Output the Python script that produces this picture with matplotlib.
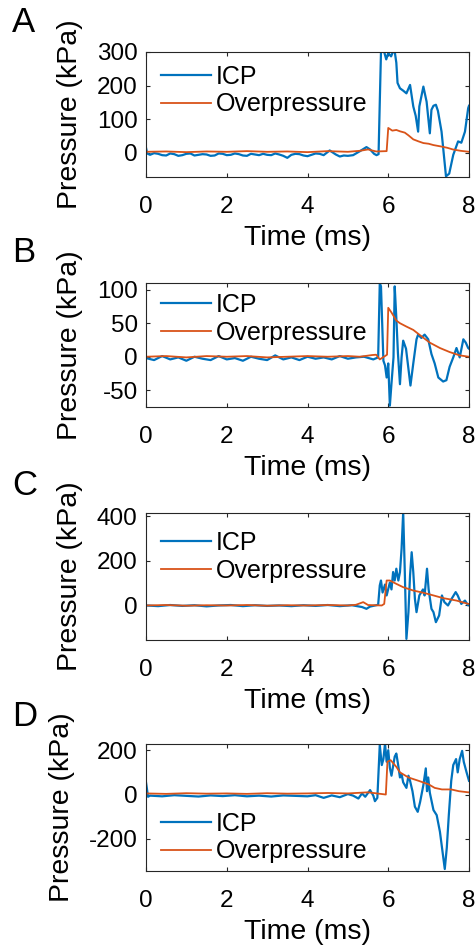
import numpy as np
import matplotlib
matplotlib.use("Agg")
import matplotlib.pyplot as plt

plt.rcParams['font.family'] = ['Liberation Sans', 'DejaVu Sans']
plt.rcParams['axes.unicode_minus'] = False

BLUE = '#0072BD'
ORANGE = '#D95319'

# ---- panel A ----
a_icp_t = [0, 0.03, 0.1, 0.2, 0.3, 0.4, 0.5, 0.6, 0.7, 0.8, 0.9, 1.0, 1.1, 1.2, 1.3, 1.4, 1.5, 1.6, 1.7,
           1.8, 1.9, 2.0, 2.1, 2.2, 2.3, 2.4, 2.5, 2.6, 2.7, 2.8, 2.9, 3.0, 3.1, 3.2, 3.3, 3.4,
           3.5, 3.6, 3.7, 3.8, 3.9, 4.0, 4.1, 4.2, 4.3, 4.4, 4.55, 4.7, 4.8, 4.9, 5.0, 5.13, 5.3, 5.46,
           5.55, 5.65, 5.71, 5.76,
           5.79, 5.82, 5.85, 5.9, 5.95, 6.0, 6.07, 6.15, 6.2, 6.23, 6.29, 6.37, 6.45, 6.54, 6.62, 6.68,
           6.74, 6.77, 6.87, 6.95, 7.03, 7.07, 7.12, 7.18, 7.23, 7.32, 7.43, 7.51, 7.61, 7.73, 7.81,
           7.9, 7.98, 8.0]
a_icp_p = [15, -2, -6, -1, -3, -7, -8, -2, -4, -9, -7, -3, -2, -8, -6, -4, -5, -9, -8,
           -2, -3, -7, -6, -2, -4, -8, -9, -3, -5, -7, -3, -6, -7, -2, -5, -9,
           -15, -6, -3, -4, -8, -10, -6, -2, -3, -7, 7, -5, -11, -8, -9, -7, 5, 17,
           10, -3, -7, -4,
           150, 300, 310, 300, 278, 297, 287, 310, 268, 208, 192, 185, 177, 202, 138, 110,
           63, 138, 197, 152, 58, 128, 140, 143, 125, 63, -70, -62, -6, 34, 30,
           63, 133, 140]
a_op_t = [0, 0.5, 1.0, 1.5, 2.0, 2.5, 3.0, 3.5, 4.0, 4.5, 5.0, 5.3, 5.5, 5.7, 5.96, 6.0, 6.05, 6.1, 6.2,
          6.29, 6.41, 6.5, 6.62, 6.75, 6.87, 7.0, 7.12, 7.3, 7.46, 7.6, 7.79, 8.0]
a_op_p = [3, 4, 2, 4, 3, 5, 3, 4, 2, 5, 3, 6, 10, 4, 5, 74, 70, 66, 68,
          64, 60, 52, 40, 34, 29, 27, 23, 19, 15, 10, 6, 3]

# ---- panel B ----
b_icp_t = [0, 0.2, 0.4, 0.6, 0.8, 1.0, 1.2, 1.4, 1.6, 1.8, 2.0, 2.2, 2.4, 2.6, 2.8, 3.0, 3.2, 3.4, 3.6,
           3.8, 4.0, 4.2, 4.4, 4.6, 4.8, 5.0, 5.2, 5.4, 5.63, 5.75, 5.79, 5.82, 5.84, 5.88, 5.92, 5.96,
           6.0, 6.04, 6.08, 6.13, 6.16, 6.2, 6.24, 6.29, 6.33, 6.37, 6.44, 6.5, 6.55, 6.62, 6.7, 6.74,
           6.82, 6.9, 6.99, 7.07, 7.15, 7.24, 7.36, 7.44, 7.52, 7.61, 7.69, 7.77, 7.86, 7.92, 7.98, 8.0]
b_icp_p = [-2, -5, 1, -4, -1, -6, 0, -3, -5, 1, -4, -2, -6, 0, -3, -5, 2, -4, -1,
           -5, 0, -3, -1, -4, 1, -3, -1, 0, -4, -1, 110, 105, 68, -6, -13, -31,
           -10, -73, -40, -1, 105, 58, 5, -41, -1, 24, 12, -18, -43, -10, 26, 33,
           28, 33, 26, 4, -10, -31, -37, -35, -15, -1, 13, -1, 26, 21, 13, 12]
b_op_t = [0, 0.5, 1.0, 1.5, 2.0, 2.5, 3.0, 3.5, 4.0, 4.5, 5.0, 5.3, 5.6, 5.7, 5.79, 5.92, 5.97, 6.0,
          6.08, 6.2, 6.29, 6.45, 6.62, 6.79, 7.03, 7.28, 7.52, 7.77, 8.0]
b_op_p = [0, 1, -1, 1, 0, 1, -1, 0, 1, 0, 1, 0, 2.5, 3, -4, 1, 3, 73,
          66, 54, 50, 45, 40, 32, 21, 13, 7, 2, 0]

# ---- panel C ----
c_icp_t = [0, 0.3, 0.6, 0.9, 1.2, 1.5, 1.8, 2.1, 2.4, 2.7, 3.0, 3.3, 3.6, 3.9, 4.2, 4.5, 4.8, 5.1,
           5.35, 5.46, 5.55, 5.75, 5.79, 5.82, 5.86, 5.92, 5.96, 6.04, 6.08, 6.12, 6.16, 6.2, 6.25,
           6.29, 6.33, 6.37, 6.41, 6.45, 6.5, 6.54, 6.58, 6.62, 6.66, 6.7, 6.77, 6.86, 6.9, 6.96,
           7.0, 7.07, 7.12, 7.18, 7.26, 7.33, 7.39, 7.48, 7.57, 7.67, 7.72, 7.81, 7.9, 7.98, 8.0]
c_icp_p = [0, -3, 2, -2, 1, -4, 0, 2, -3, 1, -2, 0, -3, 1, -2, 2, -3, 1,
           -7, -15, -5, 3, 90, 112, 58, 94, 45, 103, 72, 150, 112, 165, 112,
           150, 254, 419, 150, -150, -30, 135, 239, 150, 30, -30, 45, 72, 45, 165,
           72, -15, -30, -75, -45, 45, 15, 0, 30, 60, 45, 7, 22, 0, 5]
c_op_t = [0, 0.5, 1.0, 1.5, 2.0, 2.5, 3.0, 3.5, 4.0, 4.5, 5.0, 5.2, 5.38, 5.5, 5.84, 5.9, 5.96, 6.04,
          6.2, 6.37, 6.62, 6.87, 7.12, 7.36, 7.69, 7.98, 8.0]
c_op_p = [0, 2, -1, 1, 0, 2, -1, 1, 0, 2, 0, 3, 15, 2, 0, 7, 112, 112,
          97, 82, 67, 57, 45, 33, 22, 7, 7]

# ---- panel D ----
d_icp_t = [0, 0.02, 0.05, 0.1, 0.4, 0.7, 1.0, 1.3, 1.6, 1.9, 2.2, 2.5, 2.8, 3.1, 3.4, 3.7, 4.0, 4.2,
           4.4, 4.6, 4.8, 5.0, 5.13, 5.26, 5.35, 5.43, 5.55, 5.63, 5.67, 5.73, 5.79, 5.84, 5.88, 5.92,
           5.96, 6.0, 6.04, 6.08, 6.16, 6.2, 6.24, 6.29, 6.33, 6.37, 6.45, 6.5, 6.54, 6.6, 6.66, 6.73,
           6.79, 6.87, 6.93, 6.96, 6.99, 7.03, 7.12, 7.2, 7.28, 7.4, 7.45, 7.5, 7.56, 7.61, 7.68,
           7.72, 7.77, 7.83, 7.87, 7.94, 8.0]
d_icp_p = [55, 30, -10, -5, -8, -3, -6, -9, -4, -7, -3, -8, -5, -9, -4, -6, -8, -3,
           -15, -4, -12, 2, -5, -18, 5, -10, 20, -5, -30, -15, 224, 133, 160, 230,
           148, 200, 120, 85, 171, 185, 140, 77, 92, 55, 30, 85, 62, 15, -55, -78,
           -33, 43, 118, 15, 77, 8, -70, -93, -168, -336, -240, -93, 62, 133, 160,
           100, 160, 197, 148, 100, 62]
d_op_t = [0, 0.5, 1.0, 1.5, 2.0, 2.5, 3.0, 3.5, 4.0, 4.5, 5.0, 5.5, 5.94, 5.98, 6.06, 6.2, 6.29, 6.5,
          6.75, 7.0, 7.15, 7.33, 7.56, 7.75, 7.98, 8.0]
d_op_p = [5, 3, 6, 4, 5, 3, 6, 4, 5, 7, 5, 10, 0, 148, 155, 125, 100, 77,
          62, 46, 30, 23, 23, 15, 10, 10]

letters = ['A', 'B', 'C', 'D']
icp_t = [a_icp_t, b_icp_t, c_icp_t, d_icp_t]
icp_p = [a_icp_p, b_icp_p, c_icp_p, d_icp_p]
op_t = [a_op_t, b_op_t, c_op_t, d_op_t]
op_p = [a_op_p, b_op_p, c_op_p, d_op_p]
ylims = [(-72, 300), (-75, 110), (-155, 415), (-345, 228)]
yticks = [[0, 100, 200, 300], [-50, 0, 50, 100], [0, 200, 400], [-200, 0, 200]]
xticks = [0, 2, 4, 6, 8]

W, H = 477, 951
# axes boxes in pixels: (top, bottom)
boxes = [(52, 177), (283, 407), (513, 640), (744, 871)]
letter_y = [22, 252, 485, 716]
leg_loc = ['upper left', 'upper left', 'upper left', 'lower left']
leg_anchor = [(0.045, 0.90), (0.045, 0.92), (0.045, 0.86), (0.045, 0.06)]

fig = plt.figure(figsize=(W / 100, H / 100), dpi=100)

for i in range(4):
    top, bot = boxes[i]
    ax = fig.add_axes([146 / W, 1 - bot / H, (469 - 146) / W, (bot - top) / H])
    ax.plot(icp_t[i], icp_p[i], color=BLUE, lw=1.6, label='ICP')
    ax.plot(op_t[i], op_p[i], color=ORANGE, lw=1.3, label='Overpressure')
    ax.set_xlim(0, 8)
    ax.set_ylim(*ylims[i])
    ax.set_xticks(xticks)
    ax.set_yticks(yticks[i])
    ax.tick_params(direction='in', length=3, width=0.8, top=True, right=True,
                   labelsize=17.5, colors='#262626', labelcolor='black')
    ax.tick_params(axis='x', pad=14)
    ax.tick_params(axis='y', pad=6)
    for s in ax.spines.values():
        s.set_color('#262626')
        s.set_linewidth(0.8)
    ax.set_xlabel('Time (ms)', fontsize=20.5, labelpad=5)
    ax.set_ylabel('Pressure (kPa)', fontsize=20.5, labelpad=10)
    ax.legend(loc=leg_loc[i], bbox_to_anchor=leg_anchor[i], frameon=False, fontsize=18,
              handlelength=2.0, handletextpad=0.2, labelspacing=0.15, borderpad=0,
              borderaxespad=0)
    fig.text(12 / W, 1 - letter_y[i] / H, letters[i], fontsize=25, va='center', ha='left')

fig.savefig('out.png', dpi=100)
